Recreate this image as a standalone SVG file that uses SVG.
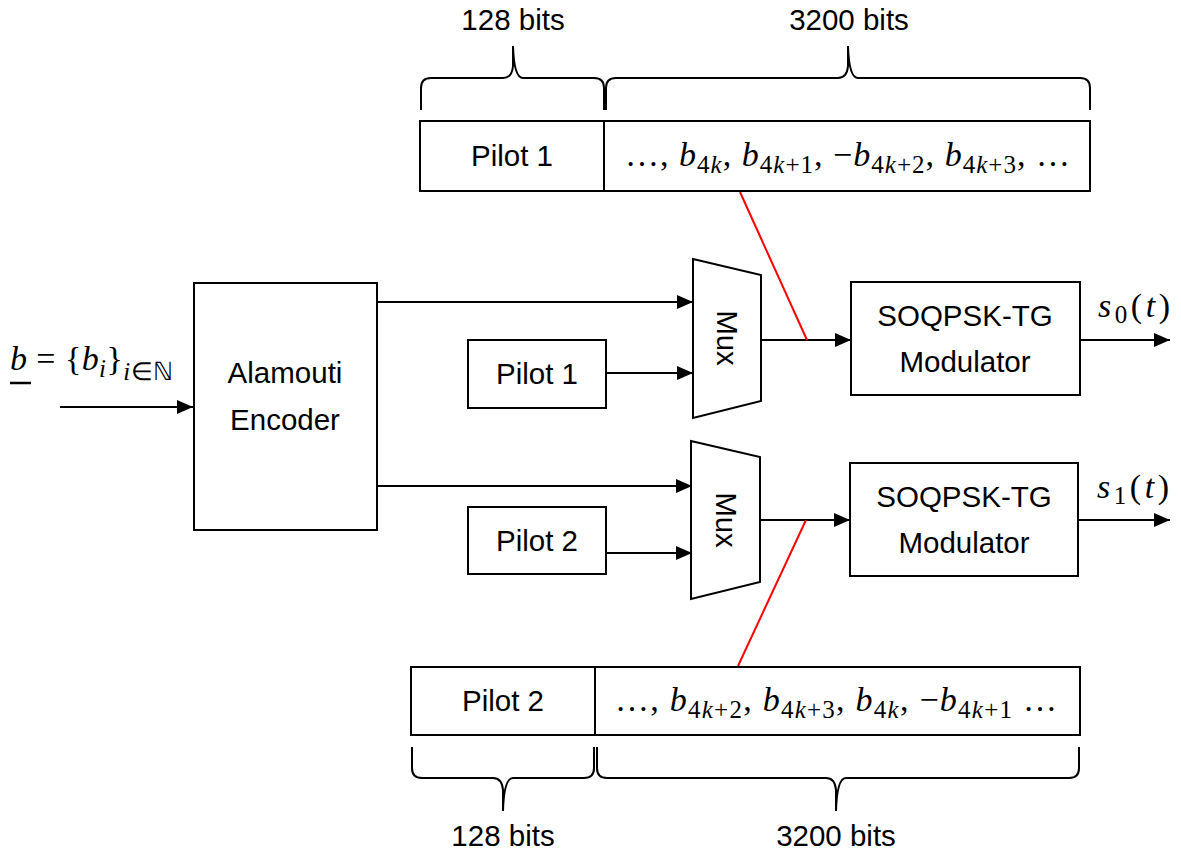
<svg xmlns="http://www.w3.org/2000/svg" width="1181" height="855" viewBox="0 0 1181 855">
<style>
.box{fill:#fff;stroke:#000;stroke-width:2}
.ln{fill:none;stroke:#000;stroke-width:2}
.red{fill:none;stroke:#ff0000;stroke-width:2}
.t{font-family:"Liberation Sans",Arial,sans-serif;font-size:29.5px;fill:#000;text-anchor:middle}
.m{font-family:"Liberation Serif","Times New Roman",serif;font-size:34px;fill:#000}
.i{font-style:italic}
.s{font-size:25px}
</style>
<defs>
<marker id="ah" markerWidth="16" markerHeight="14" refX="16" refY="7" orient="auto" markerUnits="userSpaceOnUse">
<path d="M0,0 L16,7 L0,14 Z" fill="#000"/>
</marker>
</defs>
<rect width="1181" height="855" fill="#fff"/>

<g id="connectors">
<path class="ln" d="M60,407 H193" marker-end="url(#ah)"/>
<path class="ln" d="M377,302 H693" marker-end="url(#ah)"/>
<path class="ln" d="M606,373 H693" marker-end="url(#ah)"/>
<path class="ln" d="M377,486 H692" marker-end="url(#ah)"/>
<path class="ln" d="M606,553 H692" marker-end="url(#ah)"/>
<path class="ln" d="M761,340 H851" marker-end="url(#ah)"/>
<path class="ln" d="M760,520 H850" marker-end="url(#ah)"/>
<path class="ln" d="M1080,340 H1170" marker-end="url(#ah)"/>
<path class="ln" d="M1078,520 H1170" marker-end="url(#ah)"/>
<path class="red" d="M740,192 L807,340"/>
<path class="red" d="M806,520 L738,666"/>
</g>

<g id="top-frame">
<rect class="box" x="420" y="121" width="670" height="70"/>
<line class="ln" x1="604" y1="121" x2="604" y2="191"/>
<text class="t" x="512" y="166">Pilot 1</text>
<text class="m" x="625" y="166" textLength="445" lengthAdjust="spacing">…, <tspan class="i">b</tspan><tspan class="s" dy="7">4<tspan class="i">k</tspan></tspan><tspan dy="-7">, </tspan><tspan class="i">b</tspan><tspan class="s" dy="7">4<tspan class="i">k</tspan>+1</tspan><tspan dy="-7">, −</tspan><tspan class="i">b</tspan><tspan class="s" dy="7">4<tspan class="i">k</tspan>+2</tspan><tspan dy="-7">, </tspan><tspan class="i">b</tspan><tspan class="s" dy="7">4<tspan class="i">k</tspan>+3</tspan><tspan dy="-7">, …</tspan></text>
</g>

<g id="top-braces">
<path class="ln" d="M421,110 V88 Q421,78 431,78 H503 Q512,78 513,66 V46 Q514,78 523,78 H594 Q604,78 604,88 V110"/>
<path class="ln" d="M606,110 V88 Q606,78 616,78 H838 Q847,78 848,66 V46 Q849,78 858,78 H1080 Q1090,78 1090,88 V110"/>
<text class="t" x="513" y="30">128 bits</text>
<text class="t" x="849" y="30">3200 bits</text>
</g>

<g id="input-label">
<text class="m" x="10" y="370" textLength="163" lengthAdjust="spacing"><tspan class="i">b</tspan> = {<tspan class="i">b</tspan><tspan class="s i" dy="7">i</tspan><tspan dy="-7">}</tspan><tspan class="s" dy="10"><tspan class="i">i</tspan>∈ℕ</tspan></text>
<line x1="10" y1="383" x2="31" y2="383" stroke="#000" stroke-width="2.5"/>
</g>

<g id="encoder">
<rect class="box" x="194" y="283" width="183" height="247"/>
<text class="t" x="285" y="383">Alamouti</text>
<text class="t" x="285" y="430">Encoder</text>
</g>

<g id="pilot1">
<rect class="box" x="468" y="340" width="138" height="68"/>
<text class="t" x="537" y="384">Pilot 1</text>
</g>

<g id="pilot2">
<rect class="box" x="468" y="507" width="138" height="67"/>
<text class="t" x="537" y="551">Pilot 2</text>
</g>

<g id="mux1">
<path class="box" d="M693,259 L761,275 V401 L693,418 Z"/>
<text class="t" transform="translate(717,338) rotate(90)">Mux</text>
</g>

<g id="mux2">
<path class="box" d="M691,441 L760,457 V582 L691,599 Z"/>
<text class="t" transform="translate(716,520) rotate(90)">Mux</text>
</g>

<g id="modulator1">
<rect class="box" x="851" y="282" width="229" height="113"/>
<text class="t" x="965" y="326">SOQPSK-TG</text>
<text class="t" x="965" y="372">Modulator</text>
</g>

<g id="modulator2">
<rect class="box" x="850" y="463" width="228" height="113"/>
<text class="t" x="964" y="507">SOQPSK-TG</text>
<text class="t" x="964" y="553">Modulator</text>
</g>

<g id="outputs">
<text class="m" x="1098" y="317" textLength="72" lengthAdjust="spacing"><tspan class="i">s</tspan><tspan class="s" dy="6">0</tspan><tspan dy="-6">(<tspan class="i">t</tspan>)</tspan></text>
<text class="m" x="1097" y="498" textLength="72" lengthAdjust="spacing"><tspan class="i">s</tspan><tspan class="s" dy="6">1</tspan><tspan dy="-6">(<tspan class="i">t</tspan>)</tspan></text>
</g>

<g id="bottom-frame">
<rect class="box" x="411" y="667" width="669" height="68"/>
<line class="ln" x1="595" y1="667" x2="595" y2="735"/>
<text class="t" x="503" y="711">Pilot 2</text>
<text class="m" x="615" y="711" textLength="442" lengthAdjust="spacing">…, <tspan class="i">b</tspan><tspan class="s" dy="7">4<tspan class="i">k</tspan>+2</tspan><tspan dy="-7">, </tspan><tspan class="i">b</tspan><tspan class="s" dy="7">4<tspan class="i">k</tspan>+3</tspan><tspan dy="-7">, </tspan><tspan class="i">b</tspan><tspan class="s" dy="7">4<tspan class="i">k</tspan></tspan><tspan dy="-7">, −</tspan><tspan class="i">b</tspan><tspan class="s" dy="7">4<tspan class="i">k</tspan>+1</tspan><tspan dy="-7"> …</tspan></text>
</g>

<g id="bottom-braces">
<path class="ln" d="M412,747 V768 Q412,778 422,778 H493 Q502,778 503,790 V811 Q504,778 513,778 H584 Q594,778 594,768 V747"/>
<path class="ln" d="M597,747 V768 Q597,778 607,778 H826 Q835,778 836,790 V811 Q837,778 846,778 H1069 Q1079,778 1079,768 V747"/>
<text class="t" x="503" y="846">128 bits</text>
<text class="t" x="836" y="846">3200 bits</text>
</g>
</svg>
